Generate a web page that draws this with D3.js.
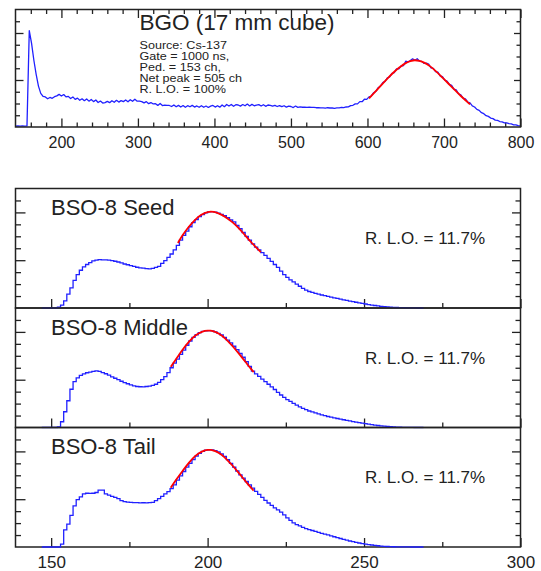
<!DOCTYPE html>
<html>
<head>
<meta charset="utf-8">
<script src="https://cdn.jsdelivr.net/npm/d3@7"></script>
<style>
  body { margin: 0; background: #fff; }
  svg { display: block; font-family: "Liberation Sans", Arial, Helvetica, sans-serif; }
</style>
</head>
<body>
<svg id="chart" width="541" height="571"></svg>
<script>
// ---- BGO reference spectrum (Cs-137), counts every 3 channels from channel 140 ----
const bgoStart = 140;
const bgoStep = 3;
const bgoCounts = [
  20, 22, 18, 21, 19, 24, 2050, 1780, 1420, 1120,
  870, 715, 650, 640, 600, 628, 610, 645, 662, 694,
  660, 690, 640, 652, 606, 640, 588, 614, 570, 600,
  560, 596, 550, 586, 540, 574, 520, 552, 510, 520,
  546, 518, 560, 526, 568, 530, 562, 540, 574, 536,
  580, 546, 590, 550, 552, 540, 512, 540, 496, 520,
  490, 496, 460, 500, 456, 466, 460, 458, 436, 470,
  430, 460, 426, 456, 420, 454, 430, 460, 424, 448,
  420, 454, 420, 446, 416, 444, 458, 424, 452, 422,
  468, 432, 478, 446, 480, 440, 474, 468, 444, 478,
  452, 488, 448, 482, 452, 464, 476, 446, 474, 440,
  468, 462, 444, 460, 436, 456, 432, 452, 424, 444,
  436, 414, 446, 418, 426, 420, 420, 416, 424, 418,
  418, 410, 412, 406, 406, 400, 410, 404, 404, 398,
  408, 406, 418, 414, 426, 428, 454, 462, 492, 492,
  540, 538, 590, 588, 642, 658, 730, 760, 836, 870,
  944, 972, 1044, 1066, 1142, 1156, 1236, 1236, 1298, 1304,
  1400, 1384, 1416, 1450, 1420, 1452, 1400, 1396, 1352, 1358,
  1336, 1256, 1246, 1176, 1166, 1086, 1074, 996, 978, 906,
  886, 806, 792, 708, 686, 614, 600, 532, 512, 448,
  426, 374, 354, 304, 284, 240, 226, 190, 178, 146,
  142, 116, 108, 88, 86, 70, 66, 46, 44, 28,
  24
];
// fitted photopeak [channel, counts]
const bgoFit = [
  [602, 610], [610, 745], [618, 890], [626, 1030], [634, 1160], [642, 1270],
  [650, 1360], [656, 1400], [662, 1420], [668, 1405], [674, 1370], [682, 1290],
  [690, 1180], [698, 1050], [706, 920], [714, 790], [722, 660], [730, 540], [734, 480]
];
const bgoTitle = "BGO (17 mm cube)";
const bgoNotes = ["Source: Cs-137", "Gate = 1000 ns,", "Ped. = 153 ch,", "Net peak = 505 ch", "R. L.O. = 100%"];
const bgoTickLabels = [200, 300, 400, 500, 600, 700, 800];

// ---- BSO-8 spectra, counts per channel from channel 147 ----
const bsoStart = 147;
const bsoNames = ["BSO-8 Seed", "BSO-8 Middle", "BSO-8 Tail"];
const bsoLightOutput = ["R. L.O. = 11.7%", "R. L.O. = 11.7%", "R. L.O. = 11.7%"];
const seedCounts = [
  0, 0, 0, 0, 0, 20, 60, 150, 290, 420,
  580, 700, 790, 860, 910, 950, 985, 1000, 1010, 1008,
  1005, 1000, 990, 978, 962, 945, 920, 905, 888, 870,
  852, 840, 836, 825, 820, 828, 850, 872, 935, 990,
  1060, 1130, 1215, 1310, 1420, 1520, 1610, 1700, 1785, 1850,
  1910, 1955, 1990, 2010, 2015, 2005, 1985, 1960, 1930, 1890,
  1845, 1800, 1730, 1660, 1580, 1500, 1420, 1340, 1275, 1215,
  1160, 1100, 1040, 975, 910, 850, 770, 700, 640, 590,
  545, 500, 455, 410, 372, 345, 325, 305, 290, 272,
  258, 242, 228, 212, 200, 186, 172, 158, 145, 132,
  120, 108, 95, 84, 72, 62, 52, 44, 36, 30,
  24, 18, 14, 10, 8, 6, 4, 3, 2, 1,
  0, 0
];
const middleCounts = [
  0, 0, 0, 0, 0, 10, 120, 330, 560, 800,
  960, 1040, 1090, 1120, 1145, 1160, 1175, 1185, 1175, 1150,
  1125, 1095, 1060, 1030, 1000, 968, 940, 915, 890, 872,
  858, 852, 850, 858, 866, 880, 905, 945, 1000, 1065,
  1150, 1250, 1345, 1430, 1530, 1620, 1720, 1810, 1885, 1940,
  1985, 2010, 2022, 2028, 2020, 2000, 1970, 1935, 1885, 1830,
  1770, 1700, 1630, 1550, 1470, 1380, 1280, 1180, 1120, 1070,
  1010, 960, 905, 850, 795, 735, 680, 630, 585, 545,
  505, 470, 432, 400, 372, 345, 325, 305, 285, 265,
  248, 230, 215, 202, 188, 175, 162, 150, 138, 125,
  114, 102, 92, 80, 70, 60, 50, 42, 35, 28,
  22, 17, 12, 9, 6, 4, 3, 2, 1, 0,
  0, 0
];
const tailCounts = [
  0, 0, 0, 0, 0, 0, 60, 360, 480, 660,
  860, 990, 1050, 1110, 1125, 1120, 1125, 1140, 1190, 1190,
  1110, 1085, 1060, 1040, 1010, 970, 950, 940, 935, 928,
  928, 925, 926, 924, 928, 935, 970, 1010, 1060, 1110,
  1160, 1220, 1300, 1400, 1490, 1580, 1670, 1750, 1830, 1900,
  1960, 2000, 2025, 2030, 2030, 2015, 1990, 1950, 1895, 1830,
  1750, 1670, 1590, 1510, 1440, 1370, 1300, 1230, 1165, 1100,
  1040, 975, 920, 870, 820, 775, 730, 670, 610, 555,
  505, 470, 440, 410, 385, 362, 345, 325, 305, 285,
  268, 252, 232, 214, 196, 178, 160, 142, 126, 112,
  98, 84, 70, 60, 50, 42, 34, 26, 20, 15,
  10, 7, 5, 4, 3, 2, 1, 1, 0, 0,
  0, 0
];
// fitted photopeaks [channel, counts]
const seedFit = [
  [190.5, 1360], [192, 1520], [194, 1700], [196, 1845], [198, 1950], [200, 2008], [201, 2015],
  [202, 2010], [204, 1965], [206, 1890], [208, 1790], [210, 1665], [212, 1520], [214, 1370],
  [216, 1235], [217, 1170]
];
const middleFit = [
  [188.2, 1270], [190, 1440], [192, 1625], [194, 1790], [196, 1920], [198, 1995], [200, 2025],
  [201, 2025], [202, 2010], [204, 1945], [206, 1840], [208, 1700], [210, 1545], [212, 1380],
  [214, 1215], [214.7, 1160]
];
const tailFit = [
  [188.2, 1240], [190, 1410], [192, 1590], [194, 1760], [196, 1900], [198, 1990], [200, 2030],
  [201, 2030], [202, 2015], [204, 1950], [206, 1840], [208, 1700], [210, 1545], [212, 1385],
  [214, 1230], [214.7, 1180]
];
const bsoTickLabels = [150, 200, 250, 300];

// ---- drawing ----
const svg = d3.select("#chart");
const INK = "#222";
const BLUE = "#2020ff";
const RED = "#ff0000";
const left = 15.5, right = 520.5;

function tickSet(g, axis, scale, values, size, tx, ty) {
  g.append("g")
    .attr("transform", `translate(${tx},${ty})`)
    .attr("color", INK)
    .call(axis(scale).tickValues(values).tickSizeInner(size).tickSizeOuter(0).tickFormat(""))
    .call(s => s.select(".domain").remove())
    .selectAll("line").attr("stroke-width", 1.3);
}

function labelAxis(g, scale, values, ty, fontSize, pad) {
  g.append("g")
    .attr("transform", `translate(0,${ty})`)
    .call(d3.axisBottom(scale).tickValues(values).tickSize(0).tickPadding(pad).tickFormat(d3.format("d")))
    .call(s => s.select(".domain").remove())
    .selectAll("text")
    .attr("font-size", fontSize)
    .attr("font-family", "'Liberation Sans', Arial, Helvetica, sans-serif")
    .attr("fill", INK);
}

function yTicks(g, y, majorLen, minorLen) {
  const majors = [1000, 2000];
  const minors = d3.range(250, 2500, 250).filter(v => v % 1000 !== 0);
  tickSet(g, d3.axisLeft, y, majors, -majorLen, left, 0);
  tickSet(g, d3.axisLeft, y, minors, -minorLen, left, 0);
  tickSet(g, d3.axisRight, y, majors, -majorLen + 1.5, right, 0);
  tickSet(g, d3.axisRight, y, minors, -minorLen + 0.5, right, 0);
}

// ===== top panel: BGO =====
{
  const top = 9.5, bottom = 127;
  const x = d3.scaleLinear().domain([140, 800]).range([left, right]);
  const y = d3.scaleLinear().domain([0, 2500]).range([bottom, top]);
  const g = svg.append("g");

  g.append("clipPath").attr("id", "clip-bgo")
    .append("rect").attr("x", left).attr("y", top).attr("width", right - left).attr("height", bottom - top);

  const majors = d3.range(200, 801, 100);
  const minors = d3.range(160, 800, 20).filter(v => v % 100 !== 0);
  tickSet(g, d3.axisBottom, x, majors, -8.5, 0, bottom);
  tickSet(g, d3.axisBottom, x, minors, -4.5, 0, bottom);
  tickSet(g, d3.axisTop, x, majors, -8.5, 0, top);
  tickSet(g, d3.axisTop, x, minors, -4.5, 0, top);
  yTicks(g, y, 8, 4.5);

  const pts = bgoCounts.map((c, i) => [bgoStart + i * bgoStep, c]);
  g.append("path")
    .attr("clip-path", "url(#clip-bgo)")
    .attr("d", d3.line().x(d => x(d[0])).y(d => y(d[1]))(pts))
    .attr("fill", "none").attr("stroke", BLUE).attr("stroke-width", 1.3)
    .attr("stroke-linejoin", "round");

  g.append("path")
    .attr("d", d3.line().curve(d3.curveMonotoneX).x(d => x(d[0])).y(d => y(d[1]))(bgoFit))
    .attr("fill", "none").attr("stroke", RED).attr("stroke-width", 1.8);

  g.append("rect")
    .attr("x", left).attr("y", top).attr("width", right - left).attr("height", bottom - top)
    .attr("fill", "none").attr("stroke", INK).attr("stroke-width", 1.5);

  g.append("text").attr("x", 139.5).attr("y", 30)
    .attr("font-size", 22.5).attr("fill", INK).text(bgoTitle);

  // run notes: small type, slightly widened
  const notes = g.append("g").attr("transform", "translate(139.5,0) scale(1.2,1)");
  notes.selectAll("text").data(bgoNotes).join("text")
    .attr("x", 0).attr("y", (d, i) => 49.5 + i * 11)
    .attr("font-size", 10.5).attr("fill", INK)
    .text(d => d);

  labelAxis(g, x, bgoTickLabels, bottom, 16, 10);
}

// ===== lower panels: BSO-8 =====
{
  const tops = [188.5, 308, 427.5];
  const h = 119.5;
  const x = d3.scaleLinear().domain([138.6, 300]).range([left, right]);
  const series = [seedCounts, middleCounts, tailCounts];
  const fits = [seedFit, middleFit, tailFit];

  tops.forEach((top, k) => {
    const bottom = top + h;
    const y = d3.scaleLinear().domain([0, 2500]).range([bottom, top]);
    const g = svg.append("g");

    g.append("clipPath").attr("id", "clip-bso" + k)
      .append("rect").attr("x", left).attr("y", top - 1).attr("width", right - left).attr("height", h + 2);

    tickSet(g, d3.axisBottom, x, [150, 200, 250, 300], -9, 0, bottom);
    tickSet(g, d3.axisBottom, x, [175, 225, 275], -5, 0, bottom);
    yTicks(g, y, 10, 5.5);

    g.append("rect")
      .attr("x", left).attr("y", top).attr("width", right - left).attr("height", h)
      .attr("fill", "none").attr("stroke", INK).attr("stroke-width", 1.5);

    const counts = series[k];
    const pts = counts.map((c, i) => [bsoStart + i, c]);
    pts.push([bsoStart + counts.length, counts[counts.length - 1]]);
    g.append("path")
      .attr("clip-path", `url(#clip-bso${k})`)
      .attr("d", d3.line().curve(d3.curveStepAfter).x(d => x(d[0])).y(d => y(d[1]))(pts))
      .attr("fill", "none").attr("stroke", BLUE).attr("stroke-width", 1.3);

    g.append("path")
      .attr("d", d3.line().curve(d3.curveMonotoneX).x(d => x(d[0])).y(d => y(d[1]))(fits[k]))
      .attr("fill", "none").attr("stroke", RED).attr("stroke-width", 1.8);

    g.append("text").attr("x", 51).attr("y", top + 26.5)
      .attr("font-size", 22).attr("fill", INK).text(bsoNames[k]);
    g.append("text").attr("x", 365).attr("y", top + 55.8)
      .attr("font-size", 17).attr("fill", INK).text(bsoLightOutput[k]);
  });

  labelAxis(svg.append("g"), x, bsoTickLabels, tops[2] + h, 17, 9.2);
}
</script>
</body>
</html>
